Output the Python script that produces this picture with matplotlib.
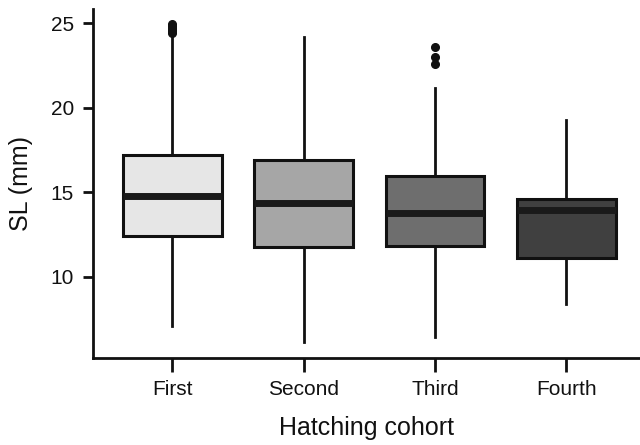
import matplotlib
matplotlib.use("Agg")
import matplotlib.pyplot as plt

plt.rcParams['font.family'] = ['Liberation Sans', 'DejaVu Sans']

cohorts = ["First", "Second", "Third", "Fourth"]
whisker_low = [7.08, 6.18, 6.43, 8.43]
q1 = [12.41, 11.76, 11.82, 11.15]
median = [14.80, 14.39, 13.78, 13.94]
q3 = [17.24, 16.94, 15.96, 14.62]
whisker_high = [24.50, 24.21, 21.20, 19.27]
outliers = [
    [24.45, 24.55, 24.65, 24.75, 24.85, 24.95],
    [],
    [22.62, 23.01, 23.58],
    [],
]
fills = ["#e6e6e6", "#a6a6a6", "#6e6e6e", "#404040"]

stats = []
for i, name in enumerate(cohorts):
    stats.append(dict(label=name, whislo=whisker_low[i], q1=q1[i], med=median[i],
                      q3=q3[i], whishi=whisker_high[i], fliers=outliers[i]))

fig = plt.figure(figsize=(6.4, 4.45), dpi=100)
ax = fig.add_axes([0.146, 0.196, 0.854, 0.784])

bp = ax.bxp(stats, positions=range(1, 5), widths=0.75, patch_artist=True,
            showcaps=False,
            boxprops=dict(linewidth=2.2, edgecolor="#111111"),
            medianprops=dict(linewidth=5, color="#1a1a1a", solid_capstyle="butt"),
            whiskerprops=dict(linewidth=2, color="#111111"),
            flierprops=dict(marker="o", markersize=5.5, markerfacecolor="#111111",
                            markeredgecolor="#111111"))
for patch, c in zip(bp["boxes"], fills):
    patch.set_facecolor(c)

ax.set_xlim(0.4, 4.56)
ax.set_ylim(5.22, 25.86)
ax.set_yticks([10, 15, 20, 25])
ax.set_xticks(range(1, 5))
ax.set_xticklabels(cohorts)

for s in ["top", "right"]:
    ax.spines[s].set_visible(False)
for s in ["left", "bottom"]:
    ax.spines[s].set_linewidth(2)
    ax.spines[s].set_color("#111111")

ax.tick_params(axis="y", length=7.5, width=2, labelsize=15, pad=6.5, colors="#111111")
ax.tick_params(axis="x", length=10, width=2, labelsize=15, pad=6, colors="#111111")
ax.set_ylabel("SL (mm)", fontsize=18, labelpad=13, color="#111111")
ax.set_xlabel("Hatching cohort", fontsize=18, labelpad=12, color="#111111")

fig.savefig("out.png", dpi=100)
